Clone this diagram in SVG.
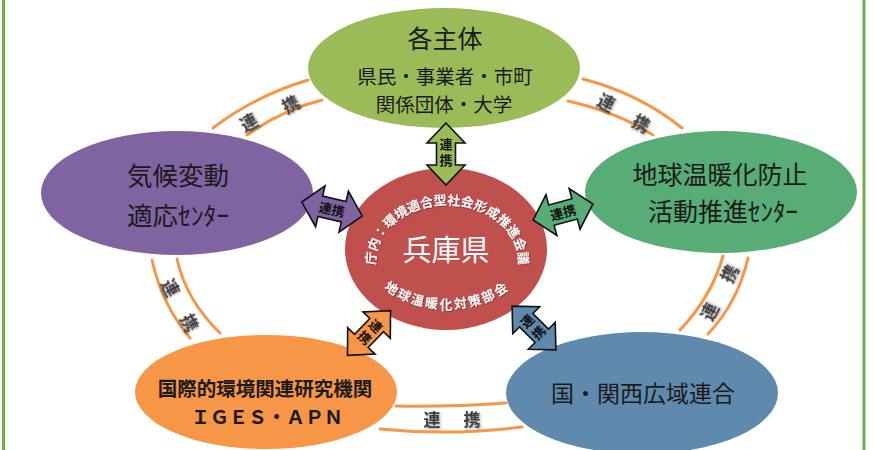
<svg xmlns="http://www.w3.org/2000/svg" width="874" height="450" viewBox="0 0 874 450">
<defs>
<style>
text{font-family:"Noto Sans CJK JP","Noto Sans",sans-serif;text-anchor:middle;dominant-baseline:central}
.lbl{fill:#1a1a1a}
.band{fill:none;stroke:#f79646;stroke-width:3;stroke-linecap:round}
.bt{font-size:17px;font-weight:bold;fill:#404040;filter:url(#sh)}
.arr{stroke:#111;stroke-width:1.6;stroke-linejoin:miter}
.at{font-size:13px;font-weight:bold;fill:#111}
.vt{writing-mode:vertical-rl;letter-spacing:3px}
.arc{font-size:13px;font-weight:bold;fill:#fff;filter:url(#sh2);dominant-baseline:auto}
.border{stroke:#70ad47;stroke-width:3}
</style>
<filter id="sh" x="-30%" y="-30%" width="160%" height="160%"><feDropShadow dx="1.2" dy="1.2" stdDeviation="0.9" flood-color="#000" flood-opacity="0.4"/></filter>
<filter id="sh2" x="-30%" y="-30%" width="160%" height="160%"><feDropShadow dx="0.8" dy="0.8" stdDeviation="0.6" flood-color="#000" flood-opacity="0.4"/></filter>
<polygon id="va" points="0,-31 19,-11 9.5,-11 9.5,11 19,11 0,31 -19,11 -9.5,11 -9.5,-11 -19,-11"/>
<polygon id="ha" points="-31,0 -12,-21 -12,-10.5 12,-10.5 12,-21 31,0 12,21 12,10.5 -12,10.5 -12,21"/>
<path id="topArc" d="M376.6,271.9 A71.5,57 0 1 1 517.4,271.9"/>
<path id="botArc" d="M375.1,279.5 A83,59 0 0 0 518.9,279.5"/>
</defs>
<rect width="874" height="450" fill="#fff"/>
<line class="border" x1="3.5" y1="0" x2="3.5" y2="450"/>
<line class="border" x1="864" y1="0" x2="864" y2="450"/>

<g id="node-top">
<ellipse cx="444" cy="68" rx="136" ry="60" fill="#9bbb59"/>
<text class="lbl" x="445" y="37" font-size="25">各主体</text>
<text class="lbl" x="445" y="75" font-size="19.5">県民・事業者・市町</text>
<text class="lbl" x="444" y="103" font-size="19.5">関係団体・大学</text>
</g>
<g id="node-left">
<ellipse cx="177" cy="193" rx="136" ry="62" fill="#8064a2"/>
<text class="lbl" x="178" y="173" font-size="25.5">気候変動</text>
<text class="lbl" x="178" y="213" font-size="25.5">適応ｾﾝﾀｰ</text>
</g>
<g id="node-right">
<ellipse cx="721" cy="192" rx="136" ry="61" fill="#58ad76"/>
<text class="lbl" x="720" y="173" font-size="25">地球温暖化防止</text>
<text class="lbl" x="723" y="210" font-size="25">活動推進ｾﾝﾀｰ</text>
</g>
<g id="node-bl">
<ellipse cx="266" cy="392" rx="131" ry="57" fill="#f79646"/>
<text class="lbl" x="265" y="387" font-size="19.5" font-weight="bold">国際的環境関連研究機関</text>
<text class="lbl" x="267" y="415" font-size="19" font-weight="bold">ＩＧＥＳ・ＡＰＮ</text>
</g>
<g id="node-br">
<ellipse cx="642" cy="393" rx="136" ry="61" fill="#5f8aad"/>
<text class="lbl" x="643" y="392" font-size="23">国・関西広域連合</text>
</g>
<g id="node-center">
<ellipse cx="446" cy="249" rx="101" ry="81" fill="#c0504d"/>
<text x="446" y="248" font-size="29" fill="#fff">兵庫県</text>
<text class="arc"><textPath href="#topArc" startOffset="50%">庁内：環境適合型社会形成推進会議</textPath></text>
<text class="arc" font-size="13.5" letter-spacing="2"><textPath href="#botArc" startOffset="50%">地球温暖化対策部会</textPath></text>
</g>

<g id="connectors">
<g id="band-tl">
<path class="band" d="M213,128 Q255,96 308,80"/>
<path class="band" d="M247,135 Q282,110 322,100"/>
<text class="bt" transform="translate(248,121) rotate(-28)">連</text>
<text class="bt" transform="translate(290,103) rotate(-28)">携</text>
</g>
<g id="band-tr">
<path class="band" d="M583,79 Q640,94 682,128"/>
<path class="band" d="M568,101 Q617,112 653,135"/>
<text class="bt" transform="translate(607,101) rotate(28)">連</text>
<text class="bt" transform="translate(642,122) rotate(28)">携</text>
</g>
<g id="band-r">
<path class="band" d="M748,258 Q738,302 708,334"/>
<path class="band" d="M723,256 Q712,296 680,330"/>
<text class="bt" transform="translate(728,273) rotate(-63)">携</text>
<text class="bt" transform="translate(708,311) rotate(-63)">連</text>
</g>
<g id="band-b">
<path class="band" d="M396,406 Q450,407 506,403"/>
<path class="band" d="M380,429 Q450,436 522,427"/>
<text class="bt" x="432" y="418">連</text>
<text class="bt" x="472" y="418">携</text>
</g>
<g id="band-l">
<path class="band" d="M152,260 Q162,305 190,338"/>
<path class="band" d="M177,259 Q186,300 220,333"/>
<text class="bt" transform="translate(172,287) rotate(63)">連</text>
<text class="bt" transform="translate(191,322) rotate(63)">携</text>
</g>

<g id="arrow-top" transform="translate(446,154)">
<use href="#va" class="arr" fill="#9bbb59"/>
<text class="at vt" x="0" y="0">連携</text>
</g>
<g id="arrow-left" transform="translate(332,209) rotate(13)">
<use href="#ha" class="arr" fill="#8064a2"/>
<text class="at" x="0" y="0">連携</text>
</g>
<g id="arrow-right" transform="translate(563,212) rotate(-15)">
<use href="#ha" class="arr" fill="#58ad76"/>
<text class="at" x="0" y="0">連携</text>
</g>
<g id="arrow-bl" transform="translate(369,333) rotate(44)">
<use href="#va" class="arr" fill="#f79646"/>
<text class="at vt" x="0" y="0">連携</text>
</g>
<g id="arrow-br" transform="translate(534,328) rotate(-45)">
<use href="#va" class="arr" fill="#5f8aad"/>
<text class="at vt" x="0" y="0">連携</text>
</g>
</g>
</svg>
